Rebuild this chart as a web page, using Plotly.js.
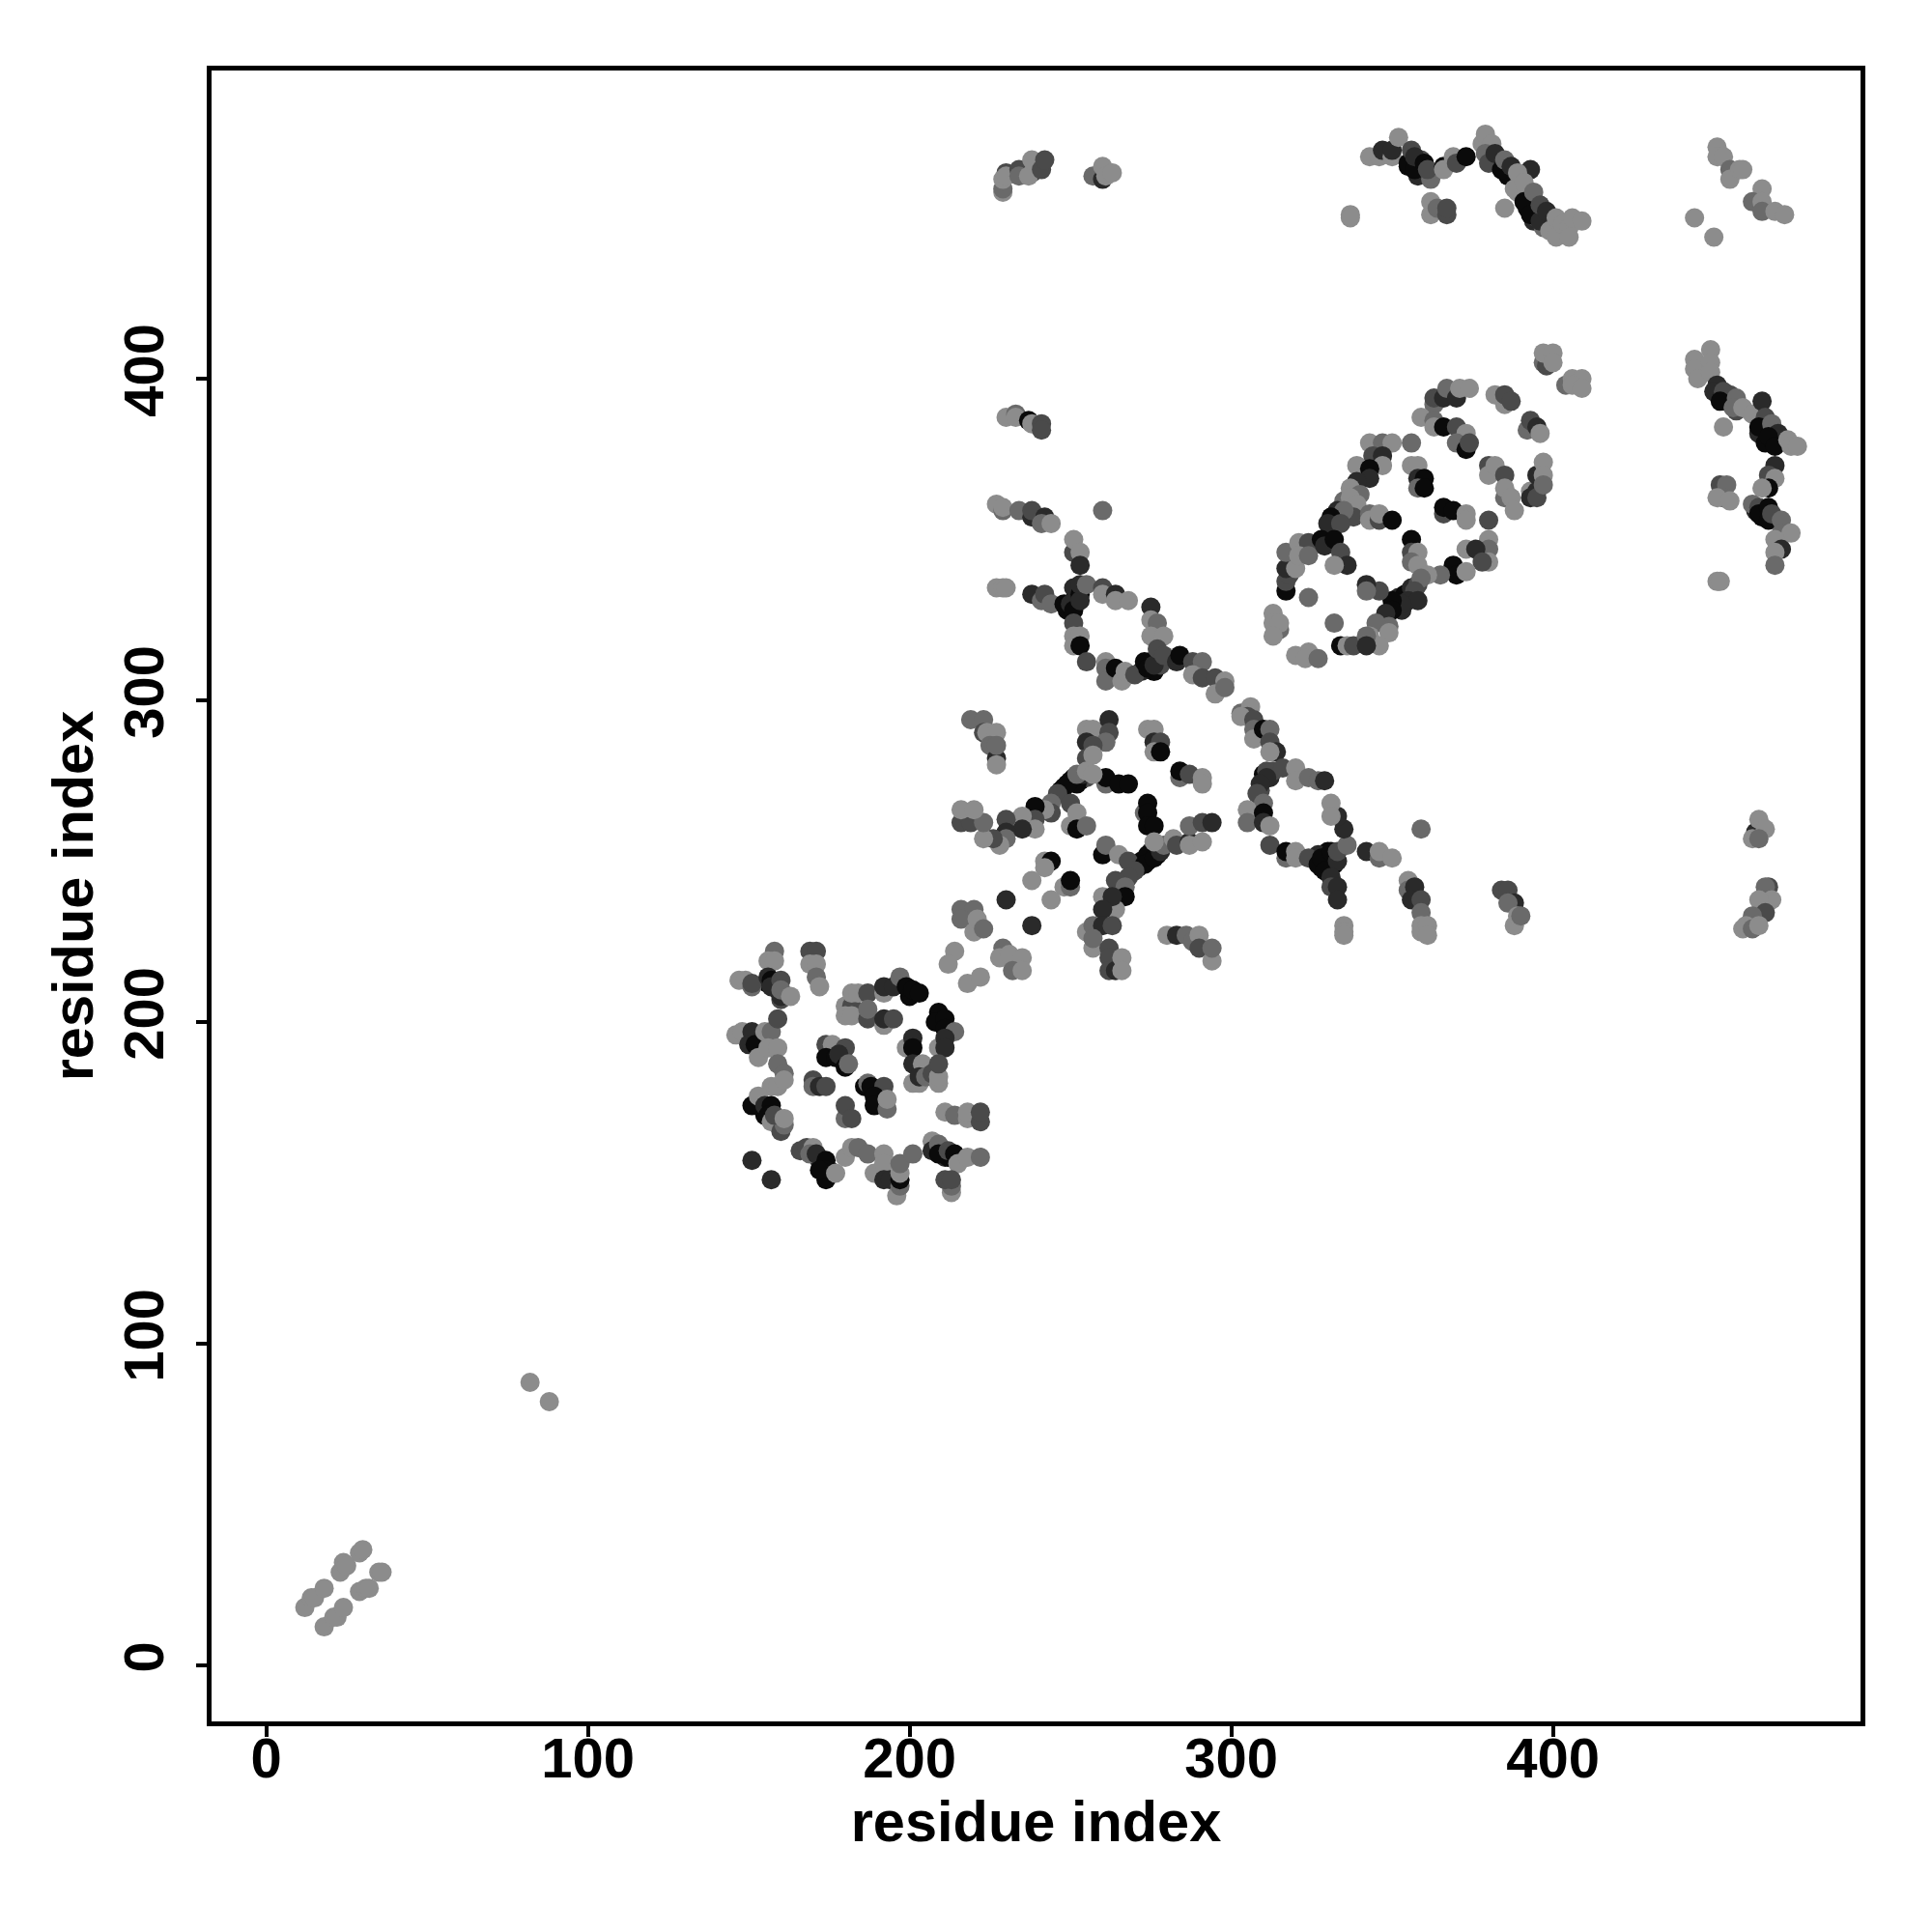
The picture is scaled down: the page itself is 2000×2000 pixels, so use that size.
<!DOCTYPE html>
<html>
<head>
<meta charset="utf-8">
<script src="https://cdn.plot.ly/plotly-3.0.1.min.js"></script>
<style>html,body{margin:0;padding:0;background:#fff}</style>
</head>
<body>
<div id="chart" style="width:2000px;height:2000px"></div>
<script>
// Each entry: [residue i, residue j, contact shade level 1 (weak) .. 5 (strong)]
const denseBandContacts = [[248,273,5],[251,276,4],[253,275,5],[255,276,3],[247,272,5],[252,274,5],[254,277,4],
[272,250,5],[274,250,5],[275,253,4],[277,252,5],[271,248,4],
[332,356,5],[334,358,4],[336,360,3],[331,354,4],[336,357,3],[338,360,2],[335,362,2],
[352,332,4],[354,333,5],[356,335,4],[358,336,3],[351,329,5],[353,328,4],
[251,331,5],[249,328,5],[252,334,5],[251,335,4],
[275,312,5],[277,313,4],[276,309,5],[278,311,3],[272,309,4],
[329,250,5],[331,251,5],[330,253,5],[328,248,5],[327,252,4],[332,249,5],
[310,277,5],[312,276,4],[311,278,3],[309,272,3],
[356,468,5],[358,466,5],[359,464,5],[355,466,5],[358,463,4],[359,468,3],
[383,468,3],[386,463,5],[392,453,5],[394,449,4],[395,452,5],[397,447,2],[389,458,1],[391,458,2],[395,450,3],
[452,396,5],[454,393,5],[455,395,3],[457,390,3],[464,383,4],[466,380,5],[467,384,3],[468,381,5],[470,380,3],
[465,357,5],[466,358,5],[463,359,4],
[156,212,5],[159,210,4],[160,207,3],[155,171,5],[157,172,5],[158,169,3],
[173,155,5],[172,157,4],[175,154,5],[208,161,5],[211,158,4],[212,158,5]];
const terminalContacts = [[12,18,1],[14,21,1],[15,21,1],[18,24,1],[23,29,1],[24,32,1],[25,31,1],[29,35,1],[30,36,1],[18,12,1],[21,15,1],[22,15,1],[24,18,1],[29,23,1],[31,24,1],[32,24,1],[35,29,1],[36,29,1],[82,88,1],[88,82,1]];
const domainOneContacts = [[158,222,2],[156,219,1],[158,219,1],[147,213,1],[149,213,1],[151,211,2],[151,212,3],[156,214,4],[157,213,5],[158,212,5],[157,211,4],[160,213,3],[160,208,4],[160,210,2],[163,208,1],
[169,222,3],[171,222,3],[169,218,1],[171,218,1],[171,214,2],[172,211,1],
[180,205,1],[182,205,3],[180,202,1],[182,202,1],[182,209,1],[184,209,1],[187,209,3],[187,201,3],[187,204,2],[192,199,1],[192,201,4],[195,201,3],
[192,209,1],[192,211,4],[195,211,4],[197,214,2],[200,208,5],[199,211,5],[201,210,5],[203,209,5],
[209,203,5],[208,200,5],[211,201,5],[211,198,5],[214,197,2],[209,192,1],[211,195,4],[211,192,4],
[199,192,1],[201,195,4],[201,192,5],[201,187,4],[204,187,1],[201,181,1],[203,181,1],[203,183,4],[205,183,2],[207,184,3],[209,181,1],[209,183,1],[209,187,3],
[146,196,1],[148,197,1],[151,197,4],[150,193,4],[152,193,5],[155,197,1],[157,197,2],[159,201,3],[153,189,1],[156,192,1],[159,192,1],
[159,187,2],[161,184,2],[157,180,1],[159,180,1],[161,182,1],
[151,174,5],[153,177,1],[155,174,4],[157,174,5],[156,171,5],[157,169,1],[160,166,3],[161,168,2],[158,171,3],[161,170,1],
[174,193,3],[176,193,1],[180,192,3],[174,189,5],[177,189,5],[178,190,4],[180,186,5],[181,187,2],
[170,182,3],[170,180,2],[172,180,4],[174,180,3],
[186,180,5],[187,181,2],[188,180,5],[192,180,3],[189,177,5],[189,174,5],[193,173,2],[193,176,1],
[180,170,2],[180,174,3],[182,170,3],
[211,172,1],[214,171,2],[218,170,1],[218,172,1],[222,169,3],[222,172,3],
[151,157,4],[157,151,4],
[166,160,3],[168,161,3],[170,161,1],[169,159,2],[171,159,4],[174,157,5],[174,154,5],[174,151,5],[172,154,5],[177,153,1],
[180,158,1],[182,161,1],[184,161,2],[187,159,2],
[189,153,1],[192,159,1],[192,156,1],[192,151,4],[194,151,4],[196,146,1],[197,149,2],[197,151,5],[197,153,1],[197,156,2],[201,159,2],
[207,163,1],[207,160,4],[209,162,2],[209,159,5],[212,160,3],[214,159,5],[215,156,1],[218,158,1],[222,158,2],
[213,147,1],[213,149,2],[211,151,3],[213,151,3]];
const domainTwoContacts = [[219,294,2],[223,294,2],[223,290,3],[224,290,1],[227,290,1],[225,286,2],[227,282,4],[227,280,1],[227,286,2],
[255,291,1],[257,291,1],[262,294,4],[262,290,3],[261,287,2],[255,287,4],[257,286,3],[255,282,3],[257,283,1],
[274,291,1],[276,291,1],[276,287,4],[278,287,3],[276,284,1],[278,284,5],
[261,274,2],[261,276,5],[265,274,5],[268,274,5],[250,275,5],[249,274,5],[252,277,2],[255,278,1],[257,277,1],[246,271,3],[244,268,2],[244,265,3],[242,266,1],[239,267,5],[239,263,3],[239,260,1],[235,264,1],[235,260,4],[230,263,3],[230,259,4],[230,257,2],[228,255,1],[226,257,3],[223,257,1],[216,262,3],[219,262,3],[223,262,2],[216,266,1],[220,266,1],
[250,268,3],[250,261,1],[252,265,1],[252,260,5],[255,261,2],
[284,276,2],[284,278,5],[287,277,3],[291,276,1],[291,274,1],
[273,265,2],[274,268,5],[274,265,5],[274,261,5],[276,261,5],
[260,252,5],[261,255,2],[265,252,1],[268,250,3],[274,252,5],[273,249,5],[276,251,5],[278,253,4],[279,255,2],[276,256,1],[282,257,1],[283,255,3],[287,256,4],[287,255,1],[291,256,1],[287,261,2],[291,262,3],[294,262,4],
[270,247,3],[268,245,3],[264,244,3],[267,242,2],[267,239,5],[264,235,1],[260,239,1],[263,239,4],[260,235,4],[255,228,1],[257,230,2],[260,230,4],[263,230,3],[257,223,1],[257,226,2],
[262,223,3],[262,220,3],[262,216,3],[264,216,4],[266,220,1],[266,216,1],
[242,250,1],[244,250,5],[242,248,1],[238,244,1],[248,242,1],[250,242,2],[250,244,5],[244,238,1],[230,238,4],[238,230,4],
[216,235,2],[220,235,2],[216,232,2],[220,228,1],[221,232,1],[223,229,2],
[214,222,1],[212,218,1],[218,212,1],[222,214,1],
[229,223,2],[228,220,1],[231,221,1],[235,220,1],[232,216,2],[235,216,1],
[280,227,1],[283,227,4],[286,227,2],[288,225,2],[290,227,1],[290,223,3],[294,219,1],[294,223,2]];
const linkerContacts = [[227,361,1],[229,359,2],[229,360,1],[234,359,2],[238,357,4],[238,359,3],[242,357,4],[241,355,2],[244,355,1],[260,359,2],
[251,346,3],[251,350,1],[253,346,1],[253,342,4],
[227,335,1],[229,335,1],[230,335,1],[238,333,4],[241,331,2],[242,333,3],[244,330,2],[248,330,5],[250,330,4],[251,328,5],[253,333,5],[253,331,4],[253,336,4],[255,336,2],[260,335,3],[260,333,1],[264,333,4],[264,331,1],[268,331,1],
[251,324,3],[251,320,1],[253,320,1],[251,317,1],[253,317,5],[255,312,3],
[261,312,1],[261,310,2],[261,306,2],[264,310,5],[266,306,1],[267,309,1],[270,308,3],[273,312,5],[274,310,5],[276,311,4],
[275,329,4],[275,325,1],[277,324,2],[275,320,1],[279,320,1],[277,316,3],[279,314,3],[283,312,4],[284,314,5],[288,312,3],[291,312,2],[288,308,1],[291,307,3],[295,307,3],[295,302,1],[298,306,1],[298,304,2],
[230,388,1],[233,389,2],[233,388,1],[237,387,5],[238,386,1],[241,386,3],[241,384,3],
[303,296,2],[306,298,1],[305,295,3],[303,295,1],[307,294,3],[307,291,2],[307,288,1],[310,291,5],[312,291,2],[312,287,3],[314,284,4],[312,284,1]];
const barrelContacts = [[313,278,3],[316,279,3],[320,279,1],[320,275,1],[324,276,2],[327,275,2],[329,275,4],
[311,276,4],[309,274,4],[308,271,3],[310,268,2],[305,266,1],[305,262,2],[310,265,5],[310,262,4],[312,261,1],
[312,255,3],[317,251,2],[317,253,5],[320,253,1],[320,251,1],[324,251,3],[327,249,5],[328,251,5],[329,247,5],[331,253,5],[333,250,4],[331,245,4],[331,242,3],[333,242,4],[333,238,4],[333,253,3],[336,255,2],[335,260,4],[333,264,4],[331,268,1],[331,264,1],
[342,253,4],[346,251,2],[346,253,1],[350,251,1],[359,260,2],
[335,230,1],[335,228,1],[335,227,1],
[355,244,1],[355,241,2],[357,242,4],[356,238,4],[359,238,3],[359,234,2],[359,230,1],[359,228,1],[361,230,1],[361,227,1],
[384,241,3],[386,241,3],[388,237,4],[386,237,2],[388,230,1],[389,233,1],[390,233,2],
[363,392,2],[363,394,3],[366,394,4],[367,397,2],[370,394,4],[371,397,1],[374,397,1],
[382,395,1],[385,392,1],[385,395,3],[387,393,3],
[392,384,2],[393,387,3],[395,385,4],[396,383,1],
[393,365,1],[393,363,4],[395,370,4],[395,365,4],[395,363,3],[397,374,1],[397,370,1],[397,367,2],
[380,373,3],[380,370,1],[382,373,1],[385,370,3],[385,363,2],[385,366,1],[387,363,1],[388,359,1],
[359,388,1],[363,387,2],[363,385,1],[366,385,5],[370,385,3],[373,383,1],[370,380,2],[373,378,5],[374,380,3],
[343,380,1],[347,380,2],[350,380,1],[356,380,2],[344,376,3],[347,376,4],[347,373,1],[339,373,1],[343,372,5],[343,369,4],[339,368,4],[337,366,1],[340,364,2],[337,363,1],[339,361,1],[338,357,3],[333,359,4],[335,359,2],[331,357,5],[330,355,4],[334,355,3],
[356,373,1],[358,373,1],[358,369,4],[360,369,5],[358,366,2],[360,366,5],
[343,358,2],[343,356,1],[346,356,3],[346,358,1],[350,356,5],
[366,358,3],[366,360,5],[369,359,5],[373,358,1],[373,356,1],[380,356,3],
[356,350,5],[356,346,3],[358,346,1],[356,343,2],[358,342,1],
[380,350,1],[380,347,2],[380,343,1],[373,347,1],[376,347,4],[378,343,3],[369,342,5],[370,339,5],[373,340,1],[365,339,2],[361,339,1],[359,338,2],[357,334,3],[355,331,4],[358,331,4],[353,330,4],[350,331,5],[350,328,5],[348,327,4],[346,334,3],[342,336,4],[342,334,2],[349,323,2],[345,324,2],[349,321,1],[343,320,1],[346,317,1],
[334,317,5],[336,317,1],[338,317,3],[342,320,2],[342,317,4],[332,324,2],
[324,332,2],[317,334,5],[317,337,3],[318,339,3],[317,341,4],[320,341,1],[317,346,2],[321,349,1],[324,349,3],[321,345,1],[324,345,2],[328,350,5],[329,348,4],[332,350,5],[334,346,3],[336,342,4],[332,342,1],
[313,327,1],[315,322,2],[313,324,1],[315,324,1],[313,320,1],
[320,314,1],[324,315,1],[323,313,1],[327,313,2]];
const upperRowContacts = [[337,451,1],[337,450,1],[343,469,1],[346,469,1],[347,471,4],[350,469,1],[350,471,4],[352,475,1],[355,467,5],[356,471,3],[357,465,5],[357,469,4],[360,467,5],[362,462,2],[361,465,3],[366,466,5],[366,465,1],[369,469,1],[370,467,3],[373,469,5],
[362,455,1],[362,451,1],[364,453,2],[367,451,3],[367,453,3],[385,453,1],
[378,473,1],[379,476,1],[381,473,1],[379,470,2],[380,467,3],[382,470,4],[384,465,5],[385,468,2],[387,466,4],[393,465,4],[389,464,1],[388,459,1],[391,461,1],[391,455,5],[393,451,5],[394,458,2],[396,449,4],[396,454,3],[398,452,4],
[399,446,1],[401,450,1],[401,444,1],[403,448,1],[405,447,1],[405,444,1],[406,450,1],[409,449,1],
[451,472,1],[451,469,1],[453,469,1],[455,465,2],[455,462,1],[458,465,1],[459,465,1],[465,459,1],[462,455,2],[465,455,1],[465,452,2],[469,452,1],[472,451,1],[444,450,1],[450,444,1],
[229,458,1],[229,459,2],[230,464,3],[229,462,1],[230,463,1],[234,465,3],[234,463,2],[238,464,4],[237,463,1],[238,468,1],[241,465,3],[242,468,3],
[257,463,2],[260,462,4],[260,466,1],[261,463,1],[263,464,1]];
const sideColumnContacts = [[444,406,1],[444,403,1],[449,409,1],[449,405,1],[445,400,1],[449,402,1],[451,398,4],[450,396,4],[453,396,3],[452,393,5],[457,394,2],[456,391,2],[459,391,1],[462,389,1],[465,393,4],[466,388,3],[464,385,5],[468,386,2],[470,383,4],[467,382,5],[469,379,5],[473,381,1],[474,379,1],[476,379,1],[453,385,1],
[469,373,4],[467,370,3],[469,369,1],[467,366,5],[465,366,1],
[452,367,3],[454,367,2],[453,363,2],[451,363,1],[455,362,1],
[462,361,2],[464,360,3],[464,358,5],[467,360,5],[467,356,5],[468,358,3],[471,356,2],[471,352,2],[474,352,1],[469,350,1],[471,347,4],[469,346,1],[469,342,2],[451,337,1],[452,337,1],
[397,405,2],[398,404,3],[397,408,1],[400,408,1],[400,405,1],[404,398,2],[406,400,1],[409,400,1],[406,398,1],[409,397,1],
[463,259,4],[464,263,1],[466,260,1],[462,257,1],[464,257,2],
[467,242,3],[466,242,2],[466,237,4],[468,238,1],[464,238,1],[466,234,3],[462,233,2],[459,229,1],[460,230,1],[462,229,2],[464,230,1]];

const tickValues = [0, 100, 200, 300, 400];
const tickLabels = ['0', '100', '200', '300', '400'];
const axisTitle = 'residue index';
const xRange = [-17, 495.6];
const yRange = [-17.4, 495.8];

const contacts = [].concat(denseBandContacts, terminalContacts, domainOneContacts, domainTwoContacts, linkerContacts, barrelContacts, upperRowContacts, sideColumnContacts);
const family = '"Liberation Sans", Arial, sans-serif';
const tickFont = {family: family, size: 58, color: '#000', weight: 700};
const titleFont = {family: family, size: 59.5, color: '#000', weight: 700};
const axisBase = {
  tickmode: 'array', tickvals: tickValues, ticktext: tickLabels,
  showgrid: false, zeroline: false, showline: true, mirror: true, linecolor: '#000', linewidth: 5,
  ticks: 'outside', ticklen: 11, tickwidth: 4, tickcolor: '#000',
  tickfont: tickFont, automargin: false
};
Plotly.newPlot('chart', [{
  type: 'scatter', mode: 'markers',
  x: contacts.map(c => c[0]), y: contacts.map(c => c[1]),
  marker: {
    size: 20, color: contacts.map(c => c[2]), cmin: 1, cmax: 5,
    colorscale: [[0, '#8c8c8c'], [0.25, '#6a6a6a'], [0.5, '#4a4a4a'], [0.75, '#2a2a2a'], [1, '#0a0a0a']],
    showscale: false, line: {width: 0}
  },
  hoverinfo: 'skip'
}], {
  width: 2000, height: 2000, showlegend: false,
  paper_bgcolor: '#fff', plot_bgcolor: '#fff',
  margin: {l: 219, r: 74, t: 73, b: 218, pad: 0},
  font: tickFont,
  xaxis: Object.assign({}, axisBase, {range: xRange, tickangle: 0, ticklabelstandoff: -28, title: {text: axisTitle, font: titleFont, standoff: 14}}),
  yaxis: Object.assign({}, axisBase, {range: yRange, tickangle: -90, ticklabelstandoff: 11, title: {text: axisTitle, font: titleFont, standoff: 1}})
}, {displayModeBar: false, staticPlot: true});
</script>
</body>
</html>
